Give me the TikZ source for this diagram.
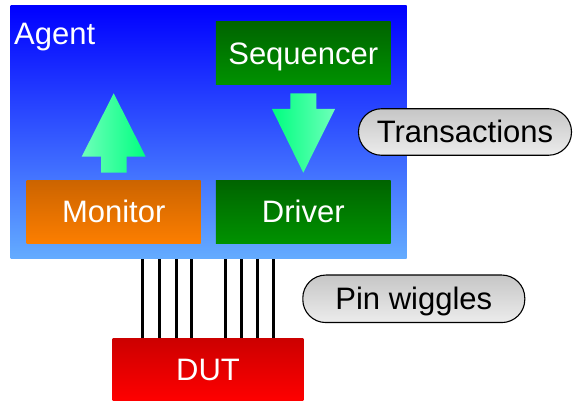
\documentclass[tikz,border=0pt]{standalone}
\usepackage{fontspec}
\setmainfont{Liberation Sans}
\begin{document}
\begin{tikzpicture}[x=1pt,y=-1pt,
  lbl/.style={font=\fontsize{31}{31}\selectfont, text height=22pt, text depth=0pt, inner sep=0pt},
  block/.style={draw=none, inner sep=0pt, text=white, lbl},
  pill/.style={draw=black, line width=1.1pt, rounded corners=23pt, inner sep=0pt,
    top color={rgb,255:red,198;green,198;blue,198}, bottom color={rgb,255:red,236;green,236;blue,236}, lbl},
  pin/.style={line width=3pt, black}
]
\useasboundingbox (0,0) rectangle (574,401);

% agent container
\node[block, minimum width=396pt, minimum height=253pt,
  top color={rgb,255:red,0;green,0;blue,255}, bottom color={rgb,255:red,100;green,172;blue,255}]
  (agent) at (208.7,132.5) {};
\node[lbl, text=white, anchor=base west] (agentlbl) at (14,45) {Agent};

% components
\node[block, minimum width=174.7pt, minimum height=63pt,
  top color={rgb,255:red,0;green,100;blue,0}, bottom color={rgb,255:red,0;green,146;blue,0}]
  (seq) at (303.3,53.5) {Sequencer};
\node[block, minimum width=174.7pt, minimum height=62.6pt,
  top color={rgb,255:red,0;green,100;blue,0}, bottom color={rgb,255:red,0;green,146;blue,0}]
  (drv) at (303.3,212) {Driver};
\node[block, minimum width=174pt, minimum height=62.6pt,
  top color={rgb,255:red,204;green,100;blue,0}, bottom color={rgb,255:red,252;green,126;blue,0}]
  (mon) at (113.7,212) {Monitor};

% block arrows
\shade[left color={rgb,255:red,110;green,255;blue,185}, right color={rgb,255:red,0;green,255;blue,128}]
  (113.7,93.3) -- (145.7,156.7) -- (126.7,156.7) -- (126.7,172.7) -- (101,172.7)
  -- (101,156.7) -- (81.7,156.7) -- cycle;
\shade[left color={rgb,255:red,0;green,255;blue,128}, right color={rgb,255:red,110;green,255;blue,185}]
  (290.3,93.3) -- (316.3,93.3) -- (316.3,109) -- (335,109) -- (303.3,172.7)
  -- (272,109) -- (290.3,109) -- cycle;

% device under test
\node[block, minimum width=190.6pt, minimum height=62.7pt,
  top color={rgb,255:red,204;green,0;blue,0}, bottom color={rgb,255:red,255;green,0;blue,0}]
  (dut) at (208,369.7) {DUT};

% pins between agent and DUT
\foreach \px in {142.7,159.3,176,191.7,225,241.7,257.3,273.3}
  \draw[pin] (agent.south -| \px,0) -- (dut.north -| \px,0);

% annotations
\node[pill, minimum width=213pt, minimum height=46.5pt] (trans) at (465,132) {Transactions};
\node[pill, minimum width=222pt, minimum height=47.5pt] (wiggle) at (413.8,298.8) {Pin wiggles};
\end{tikzpicture}
\end{document}
